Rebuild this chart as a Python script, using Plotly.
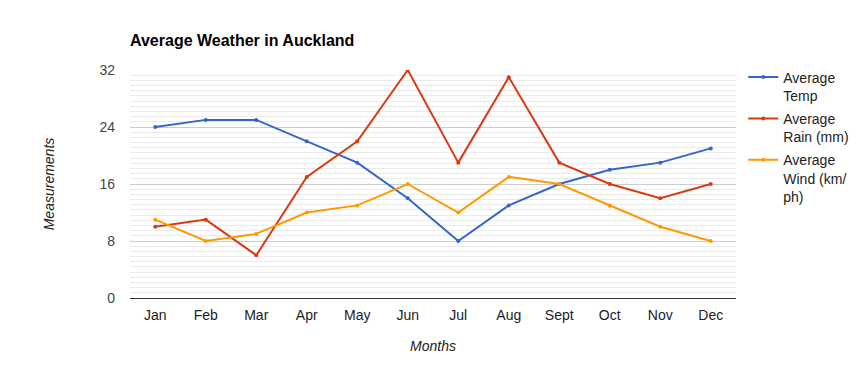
import plotly.graph_objects as go

months = ["Jan", "Feb", "Mar", "Apr", "May", "Jun", "Jul", "Aug", "Sept", "Oct", "Nov", "Dec"]
avg_temp = [24, 25, 25, 22, 19, 14, 8, 13, 16, 18, 19, 21]
avg_rain = [10, 11, 6, 17, 22, 32, 19, 31, 19, 16, 14, 16]
avg_wind = [11, 8, 9, 12, 13, 16, 12, 17, 16, 13, 10, 8]
y_ticks = [0, 8, 16, 24, 32]

series = [
    ("Average<br>Temp", avg_temp, "#3366cc"),
    ("Average<br>Rain (mm)", avg_rain, "#dc3912"),
    ("Average<br>Wind (km/<br>ph)", avg_wind, "#ff9900"),
]

fig = go.Figure()
for i, (name, vals, col) in enumerate(series):
    fig.add_trace(go.Scatter(
        x=months, y=vals, name=name, mode="lines+markers",
        legendgroup=f"g{i}",
        line=dict(color=col, width=2),
        marker=dict(color=col, size=4),
    ))

fig.update_layout(
    width=867, height=369,
    margin=dict(l=130, r=131, t=70, b=71, autoexpand=False),
    paper_bgcolor="white", plot_bgcolor="white",
    font=dict(family="Liberation Sans, Arial, sans-serif", size=14, color="#444"),
    title=dict(text="<b>Average Weather in Auckland</b>", x=130/867, xanchor="left",
               y=1 - 40/369, yanchor="middle", automargin=False,
               font=dict(size=16, color="#000")),
    showlegend=True,
    legend=dict(x=1.012, xanchor="left", y=1.0375, yanchor="top",
                valign="top", font=dict(size=14, color="#222"),
                tracegroupgap=2, itemwidth=30, bgcolor="rgba(0,0,0,0)"),
    xaxis=dict(
        title=dict(text="<i>Months</i>", font=dict(size=14, color="#222"), standoff=19),
        range=[-0.5, 11.5], showgrid=False, showline=True, linecolor="#333", linewidth=1,
        ticks="", tickfont=dict(size=14, color="#222"), zeroline=False,
        ticklabelstandoff=4, automargin=False,
    ),
    yaxis=dict(
        title=dict(text="<i>Measurements</i>", font=dict(size=14, color="#222"), standoff=41),
        range=[0, 32], tickvals=y_ticks, showgrid=True, gridcolor="#cccccc", gridwidth=1,
        zeroline=False, showline=False, ticks="", tickfont=dict(size=14, color="#444"),
        ticklabelstandoff=14, automargin=False,
        minor=dict(dtick=8/11, tick0=0, showgrid=True, gridcolor="#ebebeb", gridwidth=1),
    ),
)

fig.write_html("out.html", config={"displayModeBar": False},
               post_script="document.body.style.margin='0';")
